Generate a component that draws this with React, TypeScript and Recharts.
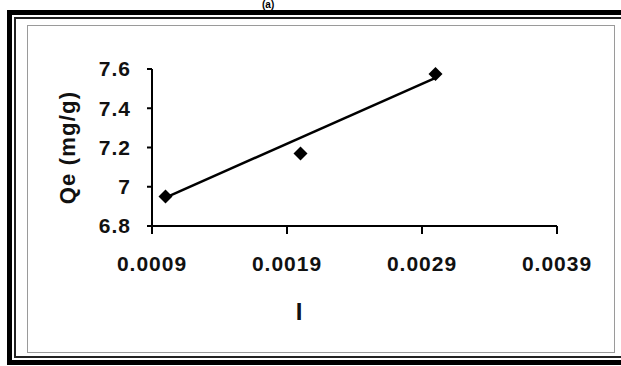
import { Label, Scatter, ScatterChart, XAxis, YAxis } from "recharts";

const ionicStrength = [0.001, 0.002, 0.003];
const qeValues = [6.95, 7.17, 7.575];
const trendX = [0.001, 0.003];
const trendQe = [6.945, 7.555];
const xTicks = [0.0009, 0.0019, 0.0029, 0.0039];
const yTicks = [6.8, 7, 7.2, 7.4, 7.6];

const points = ionicStrength.map((x, i) => ({ x, y: qeValues[i] }));
const trend = trendX.map((x, i) => ({ x, y: trendQe[i] }));

const FONT = '"Liberation Sans", Arial, sans-serif';
const tickStyle = { fill: "#111", fontSize: 21, fontWeight: 700, fontFamily: FONT, letterSpacing: 1 };

function Diamond(props: any) {
  const { cx, cy } = props;
  const r = 7;
  return <polygon points={`${cx},${cy - r} ${cx + r},${cy} ${cx},${cy + r} ${cx - r},${cy}`} fill="#000" />;
}

export default function App() {
  return (
    <div style={{ position: "relative", width: 621, height: 366, overflow: "hidden", background: "#fff" }}>
      <style>{"body{margin:0}"}</style>
      <div
        style={{
          position: "absolute",
          left: 262,
          top: 0,
          fontFamily: FONT,
          fontWeight: 700,
          fontSize: 10,
          lineHeight: "10px",
        }}
      >
        (a)
      </div>
      <div style={{ position: "absolute", left: 7, top: 10, width: 640, height: 355, border: "5px solid #000", boxSizing: "border-box" }} />
      <div style={{ position: "absolute", left: 14, top: 17, width: 630, height: 341, border: "2px solid #222", boxSizing: "border-box" }} />
      <div style={{ position: "absolute", left: 27, top: 25, width: 588, height: 328, border: "1px solid #9a9a9a", boxSizing: "border-box" }} />
      <div style={{ position: "absolute", left: 0, top: 0 }}>
        <ScatterChart width={621} height={366} margin={{ top: 69, right: 64, bottom: 80, left: 0 }}>
          <XAxis
            type="number"
            dataKey="x"
            domain={[0.0009, 0.0039]}
            ticks={xTicks}
            height={60}
            axisLine={{ stroke: "#000", strokeWidth: 2 }}
            tickLine={{ stroke: "#000", strokeWidth: 2 }}
            tickSize={8}
            tickMargin={22}
            tick={tickStyle}
            interval={0}
          >
            <Label
              content={(p: any) => {
                const vb = p.viewBox;
                return (
                  <text x={vb.x + 147} y={vb.y + 94} textAnchor="middle" fontSize={24} fontWeight={700} fontFamily={FONT} fill="#111">
                    I
                  </text>
                );
              }}
            />
          </XAxis>
          <YAxis
            type="number"
            dataKey="y"
            domain={[6.8, 7.6]}
            ticks={yTicks}
            width={152}
            axisLine={{ stroke: "#000", strokeWidth: 2 }}
            tickLine={{ stroke: "#000", strokeWidth: 2 }}
            tickSize={5}
            tickMargin={16}
            tick={tickStyle}
            interval={0}
          >
            <Label
              content={(p: any) => {
                const vb = p.viewBox;
                const cx = vb.x + 67;
                const cy = vb.y + vb.height / 2;
                return (
                  <text
                    x={cx}
                    y={cy}
                    transform={`rotate(-90 ${cx} ${cy})`}
                    textAnchor="middle"
                    dominantBaseline="central"
                    fontSize={22}
                    fontWeight={700}
                    fontFamily={FONT}
                    letterSpacing={1.2}
                    fill="#111"
                  >
                    Qe (mg/g)
                  </text>
                );
              }}
            />
          </YAxis>
          <Scatter
            data={trend}
            line={{ stroke: "#000", strokeWidth: 2.5 }}
            shape={() => <g />}
            isAnimationActive={false}
          />
          <Scatter data={points} shape={Diamond} isAnimationActive={false} />
        </ScatterChart>
      </div>
    </div>
  );
}
